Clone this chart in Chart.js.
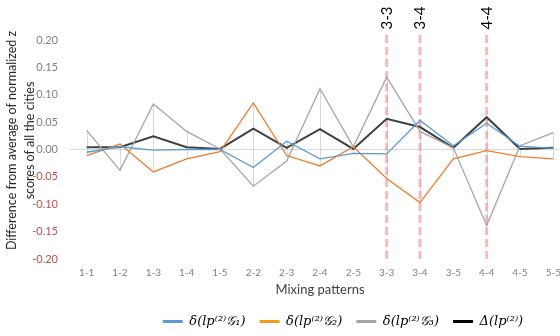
<!DOCTYPE html>
<html>
<head>
<meta charset="utf-8">
<script src="https://cdn.jsdelivr.net/npm/chart.js@4.4.0/dist/chart.umd.min.js"></script>
<style>
  html, body { margin: 0; padding: 0; background: #fff; overflow: hidden; }
  #wrap { width: 560px; height: 336px; overflow: hidden; }
  canvas { display: block; }
</style>
</head>
<body>
<div id="wrap"><canvas id="c" width="686" height="336" style="width:686px;height:336px"></canvas></div>
<script>
// Mixing patterns along the category axis
const categories = ['1-1','1-2','1-3','1-4','1-5','2-2','2-3','2-4','2-5','3-3','3-4','3-5','4-4','4-5','5-5'];

// Differences from the all-city average of normalized z scores
const seriesG1 = [-0.005, 0.005, -0.001, 0.000, 0.000, -0.033, 0.015, -0.017, -0.007, -0.008, 0.053, 0.007, 0.048, 0.006, 0.002];
const seriesG2 = [-0.011, 0.010, -0.041, -0.017, -0.004, 0.085, -0.011, -0.030, 0.005, -0.053, -0.097, -0.017, -0.002, -0.013, -0.017];
const seriesG3 = [0.035, -0.038, 0.083, 0.033, 0.001, -0.067, -0.021, 0.111, 0.005, 0.132, 0.033, 0.003, -0.139, 0.007, 0.031];
const seriesDelta = [0.004, 0.004, 0.024, 0.004, 0.001, 0.038, 0.003, 0.037, 0.001, 0.056, 0.041, 0.003, 0.059, 0.001, 0.003];

// Series names
const seriesNames = ['δ(lp⁽²⁾𝒢₁)', 'δ(lp⁽²⁾𝒢₂)', 'δ(lp⁽²⁾𝒢₃)', 'Δ(lp⁽²⁾)'];

// Patterns marked with a dashed guide
const highlighted = ['3-3', '3-4', '4-4'];

// Y axis range and step
const yMin = -0.20, yMax = 0.20, yStep = 0.05;

// Y axis caption, one entry per line
const yTitleLines = ['Difference from average of normalized z', 'scores of all the cities'];

const colors = ['#5b9bd5', '#ed7d31', '#a5a5a5', '#404040'];
const legendColors = ['#5b9bd5', '#f59a23', '#a5a5a5', '#000000'];

// Vertical high-low lines joining the extreme values of each category
const highLowLines = {
  id: 'highLowLines',
  beforeDatasetsDraw(chart) {
    const { ctx } = chart;
    const x = chart.scales.x, y = chart.scales.y;
    const sets = chart.data.datasets;
    ctx.save();
    ctx.strokeStyle = '#d9d9d9';
    ctx.lineWidth = 1;
    categories.forEach((c, i) => {
      const vals = sets.map(d => d.data[i]);
      const px = Math.round(x.getPixelForValue(i)) + 0.5;
      ctx.beginPath();
      ctx.moveTo(px, y.getPixelForValue(Math.max(...vals)));
      ctx.lineTo(px, y.getPixelForValue(Math.min(...vals)));
      ctx.stroke();
    });
    ctx.restore();
  }
};

// Dashed guides with rotated captions for selected patterns
const guides = {
  id: 'guides',
  beforeDatasetsDraw(chart) {
    const { ctx, chartArea } = chart;
    const x = chart.scales.x;
    ctx.save();
    ctx.strokeStyle = 'rgba(244, 140, 140, 0.6)';
    ctx.lineWidth = 3;
    ctx.setLineDash([8, 4]);
    highlighted.forEach(c => {
      const px = x.getPixelForValue(categories.indexOf(c));
      ctx.beginPath();
      ctx.moveTo(px, chartArea.top - 5);
      ctx.lineTo(px, chartArea.bottom + 3);
      ctx.stroke();
    });
    ctx.restore();
  },
  afterDraw(chart) {
    const { ctx, chartArea } = chart;
    const x = chart.scales.x;
    ctx.save();
    ctx.fillStyle = '#000';
    ctx.font = '15px Lato';
    ctx.textAlign = 'center';
    ctx.textBaseline = 'middle';
    highlighted.forEach(c => {
      const px = x.getPixelForValue(categories.indexOf(c));
      ctx.save();
      ctx.translate(px, chartArea.top - 22);
      ctx.rotate(-Math.PI / 2);
      ctx.fillText(c, 0, 0);
      ctx.restore();
    });
    ctx.restore();
  }
};

// Two-line rotated caption for the value axis
const yCaption = {
  id: 'yCaption',
  afterDraw(chart) {
    const { ctx, chartArea } = chart;
    const cy = (chartArea.top + chartArea.bottom) / 2 - 9;
    ctx.save();
    ctx.fillStyle = '#262626';
    ctx.font = '12.5px Lato';
    ctx.textAlign = 'center';
    ctx.textBaseline = 'middle';
    yTitleLines.forEach((t, i) => {
      ctx.save();
      ctx.translate(12 + i * 18, cy);
      ctx.rotate(-Math.PI / 2);
      ctx.fillText(t, 0, 0);
      ctx.restore();
    });
    ctx.restore();
  }
};

// Centre the legend row on the full canvas width
const legendCentre = {
  id: 'legendCentre',
  afterLayout(chart) {
    const lg = chart.legend;
    const d = chart.width / 2 - (lg.left + lg.right) / 2;
    lg.left += d;
    lg.right += d;
  }
};

new Chart(document.getElementById('c'), {
  type: 'line',
  data: {
    labels: categories,
    datasets: [seriesG1, seriesG2, seriesG3, seriesDelta].map((d, i) => ({
      label: seriesNames[i],
      data: d,
      borderColor: colors[i],
      backgroundColor: legendColors[i],
      borderWidth: i === 3 ? 2 : 1.3,
      pointRadius: 0,
      tension: 0,
      fill: false
    }))
  },
  options: {
    responsive: false,
    animation: false,
    events: [],
    layout: { padding: { top: 40, right: 116, left: 0, bottom: -2 } },
    scales: {
      x: {
        offset: true,
        grid: { display: false, drawTicks: false },
        border: { display: false },
        afterFit(s) { s.height = 42; },
        ticks: { color: '#7f7f7f', font: { family: 'Lato', size: 10 }, padding: 8, maxRotation: 0, autoSkip: false },
        title: { display: true, text: 'Mixing patterns', color: '#404040', font: { family: 'Lato', size: 13 }, padding: { top: 2, bottom: 3 } }
      },
      y: {
        min: yMin, max: yMax,
        afterFit(s) { s.width = 70; },
        border: { display: false },
        grid: {
          drawTicks: false,
          color: c => (c.tick && Math.abs(c.tick.value) < 1e-9) ? '#d9d9d9' : 'rgba(0,0,0,0)'
        },
        ticks: {
          stepSize: yStep,
          padding: 12,
          color: c => c.tick.value < -1e-9 ? '#c0504d' : '#7f7f7f',
          font: { family: 'Lato', size: 11 },
          callback: v => v.toFixed(2)
        }
      }
    },
    plugins: {
      tooltip: { enabled: false },
      legend: {
        position: 'bottom',
        labels: {
          boxWidth: 20,
          boxHeight: 3,
          padding: 14,
          color: '#000',
          font: { family: 'DejaVu Serif', size: 13, style: 'italic' },
          generateLabels(chart) {
            return chart.data.datasets.map((d, i) => ({
              text: d.label,
              fillStyle: legendColors[i],
              strokeStyle: legendColors[i],
              lineWidth: 0,
              hidden: false,
              datasetIndex: i
            }));
          }
        }
      }
    }
  },
  plugins: [highLowLines, guides, yCaption, legendCentre]
});
</script>
</body>
</html>
